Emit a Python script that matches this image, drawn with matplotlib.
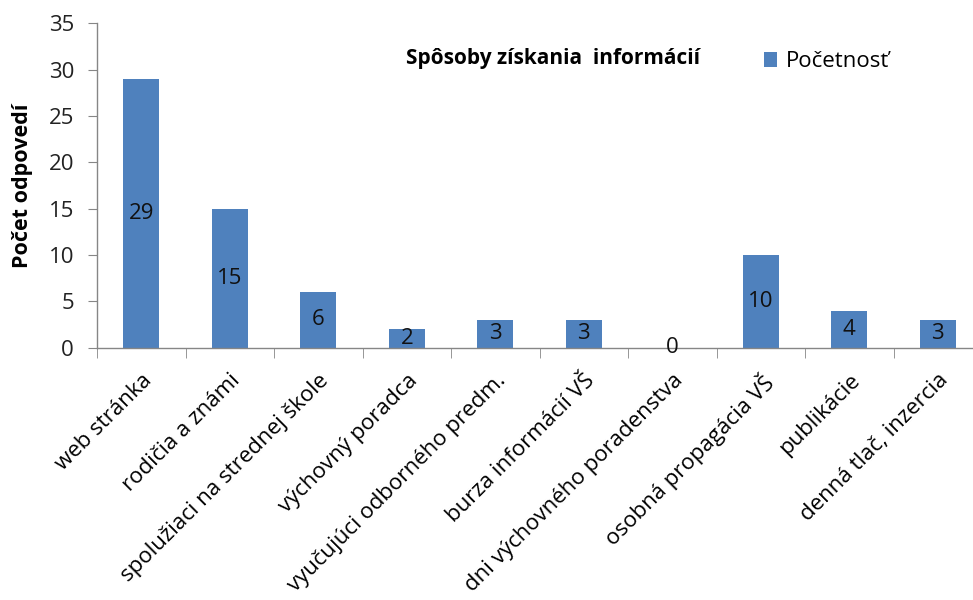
import matplotlib
matplotlib.use('Agg')
import matplotlib.pyplot as plt
import numpy as np

plt.rcParams.update({
    "font.family": ["Open Sans", "DejaVu Sans"],
    "axes.unicode_minus": False,
})

C_BAR = '#4F81BD'
C_AX = '#868686'

categories = ['web stránka', 'rodičia a známi', 'spolužiaci na strednej škole',
              'výchovný poradca', 'vyučujúci odborného predm.',
              'burza informácií VŠ', 'dni výchovného poradenstva',
              'osobná propagácia VŠ', 'publikácie', 'denná tlač, inzercia']
counts = [29, 15, 6, 2, 3, 3, 0, 10, 4, 3]
y_ticks = [0, 5, 10, 15, 20, 25, 30, 35]

fig = plt.figure(figsize=(9.73, 6.0), dpi=100)
ax = fig.add_axes([0.0997, 0.4205, 0.9096, 0.5407])

x = np.arange(len(categories))
ax.bar(x, counts, width=0.41, color=C_BAR, label='Početnosť', zorder=2)

# data labels centred in the bars
for xi, v in zip(x, counts):
    ax.text(xi, v / 2, str(v), ha='center', va='center', fontsize=16, color='#111111')

ax.set_xlim(-0.5, len(categories) - 0.5)
ax.set_ylim(0, 35)
ax.set_yticks(y_ticks)
ax.tick_params(axis='y', labelsize=16, length=6.5, color=C_AX, pad=10, labelcolor='#222222')

ax.set_xticks(x)
ax.set_xticklabels(categories, rotation=45, ha='right', rotation_mode='anchor', fontsize=16)
ax.tick_params(axis='x', which='major', length=0, pad=16)
ax.set_xticks(np.arange(len(categories) + 1) - 0.5, minor=True)
ax.tick_params(axis='x', which='minor', length=7, color=C_AX)

for s in ['top', 'right']:
    ax.spines[s].set_visible(False)
for s in ['left', 'bottom']:
    ax.spines[s].set_color(C_AX)
    ax.spines[s].set_linewidth(1.0)

fig.text(0.023, 0.69, 'Počet odpovedí', rotation=90, ha='center', va='center',
         fontsize=15.5, fontweight='bold')

fig.text(0.568, 0.902, 'Spôsoby získania  informácií', ha='center', va='center',
         fontsize=15, fontweight='bold')
fig.legend(loc='center left', bbox_to_anchor=(0.785, 0.897), frameon=False,
           fontsize=16, handlelength=0.6, handleheight=0.7, handletextpad=0.4,
           borderpad=0, borderaxespad=0)

fig.savefig('out.png', dpi=100)
